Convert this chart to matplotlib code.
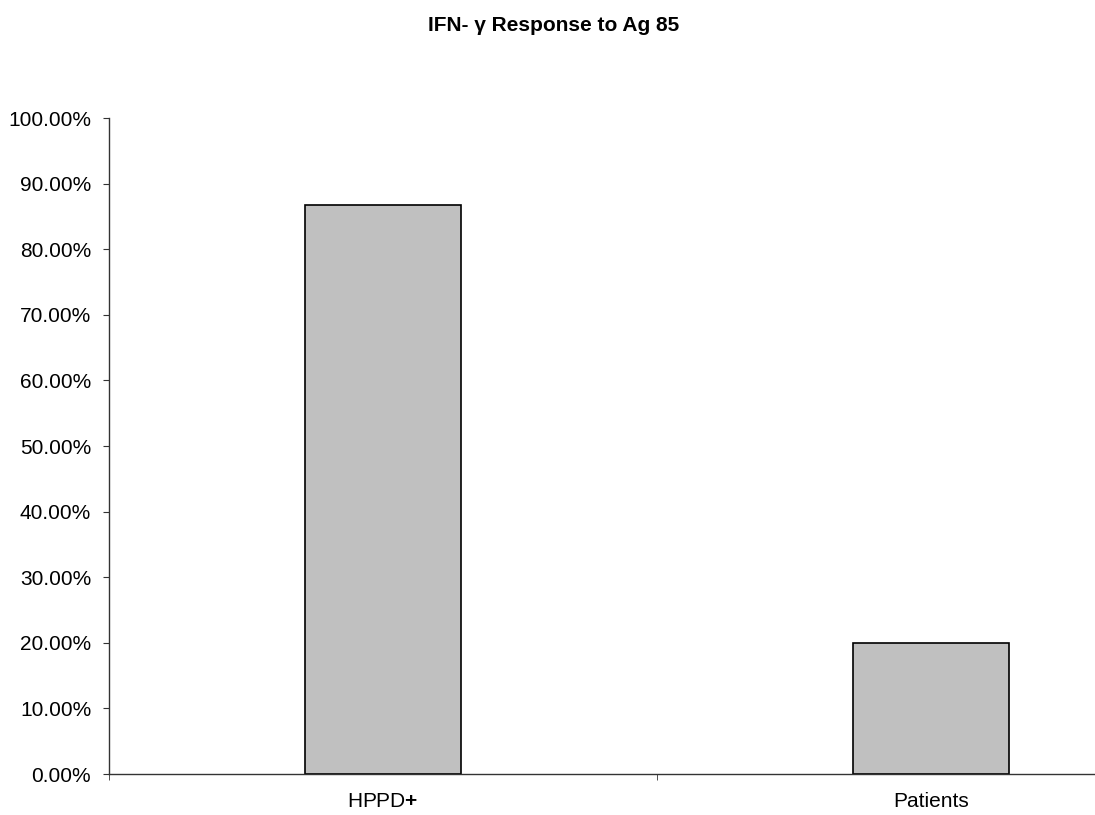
import matplotlib
matplotlib.use("Agg")
import matplotlib.pyplot as plt
from matplotlib.ticker import PercentFormatter, FixedLocator

plt.rcParams['font.family'] = ['Liberation Sans', 'DejaVu Sans']
plt.rcParams['mathtext.fontset'] = 'custom'
plt.rcParams['mathtext.rm'] = 'Liberation Sans'
plt.rcParams['mathtext.bf'] = 'Liberation Sans:bold'

# data
groups = ["HPPD$\\mathbf{+}$", "Patients"]
responses = [86.67, 20.0]
yticks = [0, 10, 20, 30, 40, 50, 60, 70, 80, 90, 100]

fig = plt.figure(figsize=(10.95, 8.15), dpi=100)
# axis runs past the right edge of the figure, like the original
ax = fig.add_axes([0.0995, 0.0503, 1.0009, 0.8049])

x = range(len(groups))
ax.bar(x, responses, width=0.286, color="#C0C0C0", edgecolor="black", linewidth=1.2)

ax.set_xlim(-0.5, 1.5)
ax.set_ylim(0, 100)
ax.set_yticks(yticks)
ax.yaxis.set_major_formatter(PercentFormatter(decimals=2))

ax.set_xticks(list(x))
ax.set_xticklabels(groups)
ax.tick_params(axis='x', which='major', length=0, pad=13, labelsize=15)
ax.xaxis.set_minor_locator(FixedLocator([-0.5, 0.5, 1.5]))
ax.tick_params(axis='x', which='minor', length=4.3, direction='out', color='#333333')
ax.tick_params(axis='y', length=4.3, direction='out', labelsize=15, color='#333333', pad=8.5)

ax.spines['top'].set_visible(False)
ax.spines['right'].set_visible(False)
for s in ['left', 'bottom']:
    ax.spines[s].set_color('#333333')
    ax.spines[s].set_linewidth(1.0)

fig.text(0.506, 0.969, "IFN- \u03b3 Response to Ag 85", ha='center', va='center',
         fontsize=15, fontweight='bold')

fig.savefig("out.png", dpi=100)
